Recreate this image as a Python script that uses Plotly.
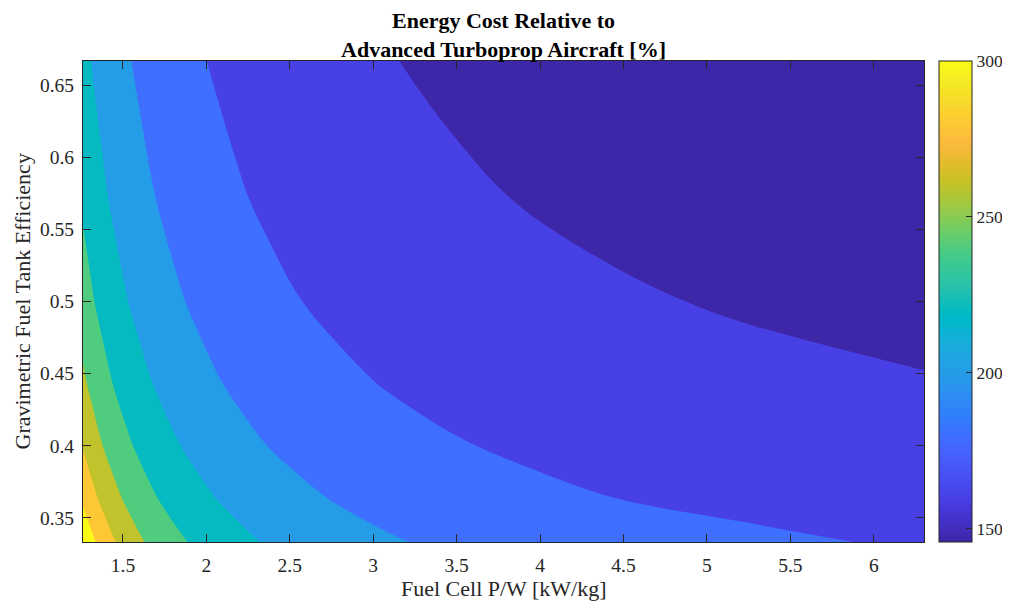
import plotly.graph_objects as go

# ---- data ----
# Fuel cell power-to-weight grid [kW/kg]
x_pw = [1.2606, 1.316, 1.3765, 1.443, 1.516, 1.597, 1.687, 1.787, 1.901, 2.030,
        2.177, 2.348, 2.548, 2.785, 3.070, 3.421, 3.862, 4.435, 5.206, 6.301]
# Gravimetric fuel tank efficiency grid
y_eff = [0.3333, 0.3636, 0.4, 0.4444, 0.5, 0.5714, 0.6667]

# Energy cost relative to advanced turboprop [%], one row per tank efficiency
z_y0333 = [316.05, 303.8, 292.5, 281.95, 272.2, 263.05, 254.55, 246.55, 239.05, 231.95,
           225.3, 219.0, 213.05, 207.45, 202.1, 197.0, 192.2, 187.6, 183.2, 178.0]
z_y0364 = [296.2, 285.45, 275.4, 266.05, 257.35, 249.2, 241.5, 234.3, 227.5, 221.1,
           215.0, 209.3, 203.85, 198.7, 193.8, 189.15, 184.7, 180.1, 176.35, 172.5]
z_y0400 = [278.7, 269.15, 260.25, 251.9, 244.05, 236.7, 229.75, 223.2, 217.0, 211.2,
           205.65, 200.4, 195.4, 190.65, 186.15, 181.85, 177.7, 173.8, 170.0, 166.4]
z_y0444 = [263.15, 254.65, 246.65, 239.1, 232.05, 225.4, 219.1, 213.15, 207.5, 202.15,
           197.05, 192.25, 187.65, 183.3, 179.1, 175.1, 171.25, 167.6, 164.1, 160.75]
z_y0500 = [249.25, 241.6, 234.35, 227.55, 221.15, 215.1, 209.35, 203.9, 198.75, 193.85,
           189.15, 184.7, 180.45, 176.4, 172.5, 168.8, 165.25, 161.85, 158.6, 155.45]
z_y0571 = [236.75, 229.8, 223.3, 217.1, 211.25, 205.7, 200.45, 195.45, 190.7, 186.2,
           181.9, 177.75, 173.8, 170.05, 166.45, 163.0, 159.7, 156.5, 153.4, 150.5]
z_y0667 = [225.45, 219.15, 213.2, 207.55, 202.2, 197.1, 192.3, 187.7, 183.3, 179.15,
           175.15, 171.3, 167.65, 164.15, 160.8, 157.55, 154.45, 151.45, 148.6, 145.85]

z_cost = [z_y0333, z_y0364, z_y0400, z_y0444, z_y0500, z_y0571, z_y0667]

levels = [160, 180, 200, 220, 240, 260, 280, 300]
cbar_ticks = [150, 200, 250, 300]
cbar_min, cbar_max = 145.8, 300.0

# ---- parula colormap ----
PARULA = [
 [0.2422, 0.1504, 0.6603], [0.2504, 0.1650, 0.7076], [0.2578, 0.1818, 0.7511],
 [0.2647, 0.1978, 0.7952], [0.2706, 0.2147, 0.8364], [0.2751, 0.2342, 0.8710],
 [0.2783, 0.2559, 0.8991], [0.2803, 0.2782, 0.9221], [0.2813, 0.3006, 0.9414],
 [0.2810, 0.3228, 0.9579], [0.2795, 0.3447, 0.9717], [0.2760, 0.3667, 0.9829],
 [0.2699, 0.3892, 0.9906], [0.2602, 0.4123, 0.9952], [0.2440, 0.4358, 0.9988],
 [0.2206, 0.4603, 0.9973], [0.1963, 0.4847, 0.9892], [0.1834, 0.5074, 0.9798],
 [0.1786, 0.5289, 0.9682], [0.1764, 0.5499, 0.9520], [0.1687, 0.5703, 0.9359],
 [0.1540, 0.5902, 0.9218], [0.1460, 0.6091, 0.9079], [0.1380, 0.6276, 0.8973],
 [0.1248, 0.6459, 0.8883], [0.1113, 0.6635, 0.8763], [0.0952, 0.6798, 0.8598],
 [0.0689, 0.6948, 0.8394], [0.0297, 0.7082, 0.8163], [0.0036, 0.7203, 0.7917],
 [0.0067, 0.7312, 0.7660], [0.0433, 0.7411, 0.7394], [0.0964, 0.7500, 0.7120],
 [0.1408, 0.7584, 0.6842], [0.1717, 0.7670, 0.6554], [0.1938, 0.7758, 0.6251],
 [0.2161, 0.7843, 0.5923], [0.2470, 0.7918, 0.5567], [0.2906, 0.7973, 0.5188],
 [0.3406, 0.8008, 0.4789], [0.3909, 0.8029, 0.4354], [0.4456, 0.8024, 0.3909],
 [0.5044, 0.7993, 0.3480], [0.5616, 0.7942, 0.3045], [0.6174, 0.7876, 0.2612],
 [0.6720, 0.7793, 0.2227], [0.7242, 0.7698, 0.1910], [0.7738, 0.7598, 0.1646],
 [0.8203, 0.7498, 0.1535], [0.8634, 0.7406, 0.1596], [0.9035, 0.7330, 0.1774],
 [0.9393, 0.7288, 0.2100], [0.9728, 0.7298, 0.2394], [0.9956, 0.7434, 0.2371],
 [0.9970, 0.7659, 0.2199], [0.9952, 0.7893, 0.2028], [0.9892, 0.8136, 0.1885],
 [0.9786, 0.8386, 0.1766], [0.9676, 0.8639, 0.1643], [0.9610, 0.8890, 0.1537],
 [0.9597, 0.9135, 0.1423], [0.9628, 0.9373, 0.1265], [0.9691, 0.9606, 0.1064],
 [0.9769, 0.9839, 0.0805]]


def rgb(c):
    return "rgb(%d,%d,%d)" % tuple(round(255 * v) for v in c)


def parula_at(f):
    f = min(max(f, 0.0), 1.0)
    p = f * (len(PARULA) - 1)
    i = min(int(p), len(PARULA) - 2)
    t = p - i
    return rgb([PARULA[i][k] * (1 - t) + PARULA[i + 1][k] * t for k in range(3)])


parula_scale = [[i / (len(PARULA) - 1), rgb(c)] for i, c in enumerate(PARULA)]

# MATLAB contourf: each band takes the colour of its lower level
band_lo = [cbar_min] + levels
band_cols = [parula_at((v - cbar_min) / (cbar_max - cbar_min)) for v in band_lo]
nb = len(band_cols) - 1
band_scale = []
for i, c in enumerate(band_cols):
    band_scale.append([max(0.0, (i - 0.5) / nb), c])
    band_scale.append([min(1.0, (i + 0.5) / nb), c])

FONT = "Liberation Serif"
INK = "#262626"

# the page adds an 8 px body margin before the figure
FIG_W, FIG_H = 1002, 595
M_L, M_R, M_T, M_B = 75, 86, 53, 61
PLOT_W = FIG_W - M_L - M_R
PLOT_H = FIG_H - M_T - M_B

fig = go.Figure()

# continuous colour bar (hidden under the filled contours)
fig.add_trace(go.Heatmap(
    x=x_pw, y=y_eff, z=z_cost, colorscale=parula_scale,
    zmin=cbar_min, zmax=cbar_max, hoverinfo="skip",
    colorbar=dict(
        x=1.0182, xanchor="left", y=0.5, yanchor="middle",
        len=1, lenmode="fraction", thickness=33, xpad=0, ypad=0,
        outlinewidth=1, outlinecolor=INK,
        tickvals=cbar_ticks, ticks="inside", ticklen=6, tickcolor=INK,
        tickfont=dict(family=FONT, size=17.5, color=INK),
    ),
))

fig.add_trace(go.Contour(
    x=x_pw, y=y_eff, z=z_cost,
    autocontour=False,
    contours=dict(start=levels[0], end=levels[-1], size=levels[1] - levels[0],
                  coloring="fill", showlines=False),
    colorscale=band_scale, showscale=False,
    line=dict(width=0), hoverinfo="skip",
))

axis_common = dict(
    showgrid=False, zeroline=False, ticks="inside", ticklen=8, tickcolor=INK,
    tickwidth=1, showline=True, linecolor=INK, linewidth=1, mirror="ticks",
    automargin=False,
    tickfont=dict(family=FONT, size=19.5, color=INK),
)

fig.update_layout(
    width=FIG_W, height=FIG_H,
    margin=dict(l=M_L, r=M_R, t=M_T, b=M_B, autoexpand=False),
    paper_bgcolor="white", plot_bgcolor="white",
    title=dict(text="<b>Energy Cost Relative to<br>Advanced Turboprop Aircraft [%]</b>",
               x=0.5, xref="paper", xanchor="center",
               y=1 - 20 / FIG_H, yref="container", yanchor="middle",
               font=dict(family=FONT, size=22, color="black")),
    xaxis=dict(range=[min(x_pw), max(x_pw)], tick0=1.5, dtick=0.5,
               ticklabelstandoff=6, **axis_common),
    yaxis=dict(range=[min(y_eff), max(y_eff)], tick0=0.35, dtick=0.05,
               ticklabelstandoff=4, **axis_common),
    annotations=[
        dict(text="Fuel Cell P/W [kW/kg]", xref="paper", yref="paper",
             x=0.5, y=-(580 - M_T - PLOT_H) / PLOT_H, xanchor="center",
             yanchor="middle", showarrow=False,
             font=dict(family=FONT, size=22, color=INK)),
        dict(text="Gravimetric Fuel Tank Efficiency", xref="paper", yref="paper",
             x=(14 - M_L) / PLOT_W, y=0.5, xanchor="center", yanchor="middle",
             textangle=-90, showarrow=False,
             font=dict(family=FONT, size=22, color=INK)),
    ],
)

fig.write_html("out.html")
